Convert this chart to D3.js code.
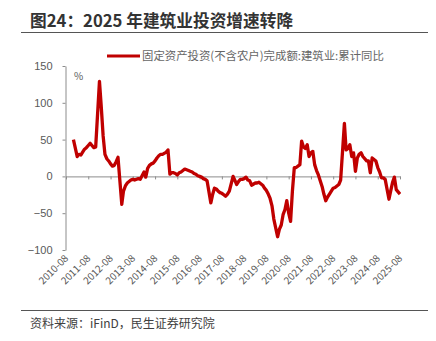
<!DOCTYPE html>
<html><head><meta charset="utf-8">
<script src="https://cdn.jsdelivr.net/npm/d3@7"></script>
<style>
html,body{margin:0;padding:0;background:#fff;}
svg{display:block;font-family:"Noto Sans CJK SC","Noto Sans",sans-serif;}
</style></head>
<body><svg id="c" width="436" height="341"></svg>
<script>
const title = "图24：2025 年建筑业投资增速转降";
const seriesName = "固定资产投资(不含农户)完成额:建筑业:累计同比";
const source = "资料来源：iFinD，民生证券研究院";
const unitLabel = "%";
const yTicks = [-100, -50, 0, 50, 100, 150];
const xTickLabels = ["2010-08","2011-08","2012-08","2013-08","2014-08","2015-08","2016-08","2017-08","2018-08","2019-08","2020-08","2021-08","2022-08","2023-08","2024-08","2025-08"];
const months = [
"2010-12",
"2011-02","2011-03","2011-04","2011-05","2011-06","2011-07","2011-08","2011-09","2011-10","2011-11","2011-12",
"2012-02","2012-03","2012-04","2012-05","2012-06","2012-07","2012-08","2012-09","2012-10","2012-11","2012-12",
"2013-02","2013-03","2013-04","2013-05","2013-06","2013-07","2013-08","2013-09","2013-10","2013-11","2013-12",
"2014-02","2014-03","2014-04","2014-05","2014-06","2014-07","2014-08","2014-09","2014-10","2014-11","2014-12",
"2015-02","2015-03","2015-04","2015-05","2015-06","2015-07","2015-08","2015-09","2015-10","2015-11","2015-12",
"2016-02","2016-03","2016-04","2016-05","2016-06","2016-07","2016-08","2016-09","2016-10","2016-11","2016-12",
"2017-02","2017-03","2017-04","2017-05","2017-06","2017-07","2017-08","2017-09","2017-10","2017-11","2017-12",
"2018-02","2018-03","2018-04","2018-05","2018-06","2018-07","2018-08","2018-09","2018-10","2018-11","2018-12",
"2019-02","2019-03","2019-04","2019-05","2019-06","2019-07","2019-08","2019-09","2019-10","2019-11","2019-12",
"2020-02","2020-03","2020-04","2020-05","2020-06","2020-07","2020-08","2020-09","2020-10","2020-11","2020-12",
"2021-02","2021-03","2021-04","2021-05","2021-06","2021-07","2021-08","2021-09","2021-10","2021-11","2021-12",
"2022-02","2022-03","2022-04","2022-05","2022-06","2022-07","2022-08","2022-09","2022-10","2022-11","2022-12",
"2023-02","2023-03","2023-04","2023-05","2023-06","2023-07","2023-08","2023-09","2023-10","2023-11","2023-12",
"2024-02","2024-03","2024-04","2024-05","2024-06","2024-07","2024-08","2024-09","2024-10","2024-11","2024-12",
"2025-02","2025-03","2025-04","2025-05","2025-06","2025-07","2025-08"
];
const values = [
50,
27,30,29,33,37,39,42,45,42,39,40,
129,95,55,30,24,21,17,14,15,20,26,
-38,-20,-13,-9,-7,-5,-4,-5,-4,-3,-4,
6,-1,11,15,17,18,21,25,28,30,30,
33,36,3,5,5,4,2,5,6,8,10,
8,7,6,4,3,1,0,-1,-3,-4,-6,
-36,-25,-16,-17,-20,-22,-23,-25,-27,-24,-20,
0,-5,-11,-7,-4,-4,-3,-1,-5,-6,-12,
-9,-9,-8,-10,-12,-16,-19,-24,-30,-40,-58,
-82,-72,-66,-52,-45,-33,-50,-61,-20,12,12,
16,48,40,38,43,27,32,34,16,8,2,
-14,-24,-33,-28,-24,-20,-16,-15,-13,-11,-5,
72,36,38,43,27,32,7,25,30,32,27,
21,21,5,25,23,21,12,6,-2,-2,-4,
-31,-20,-8,-1,-18,-21,-24
];

const parse = d3.timeParse("%Y-%m");
const data = months.map((m, i) => ({ d: parse(m), v: values[i] }));
const svg = d3.select("#c");

const red = "#C00000";
const axisGray = "#8c8c8c";
const textGray = "#595959";

// title
svg.append("text").attr("x", 30).attr("y", 27)
  .attr("font-size", 16.7).attr("font-weight", "bold").attr("fill", "#333")
  .text(title);
svg.append("line").attr("x1", 21).attr("x2", 428).attr("y1", 32.5).attr("y2", 32.5)
  .attr("stroke", "#555").attr("stroke-width", 1.2);

// scales
const x = d3.scaleTime().domain([parse(xTickLabels[0]), parse(xTickLabels[xTickLabels.length - 1])]).range([66, 400]);
const y = d3.scaleLinear().domain([-100, 150]).range([250, 66]);

// legend
svg.append("line").attr("x1", 107).attr("x2", 140).attr("y1", 56).attr("y2", 56)
  .attr("stroke", red).attr("stroke-width", 3);
svg.append("text").attr("x", 142).attr("y", 60)
  .attr("font-size", 11.4).attr("fill", "#666").text(seriesName);

// y axis
const yAxis = svg.append("g").attr("transform", "translate(65.5,0)")
  .call(d3.axisLeft(y).tickValues(yTicks).tickSize(3).tickSizeOuter(0).tickPadding(10));
yAxis.selectAll("path,line").attr("stroke", axisGray);
yAxis.selectAll("text").attr("font-size", 11).attr("fill", textGray).attr("font-family", "inherit");

svg.append("text").attr("x", 74).attr("y", 80).attr("font-size", 10).attr("fill", textGray).text(unitLabel);

// x axis at zero
const tickDates = xTickLabels.map(parse);
const xAxis = svg.append("g").attr("transform", `translate(0,${y(0)})`)
  .call(d3.axisBottom(x).tickValues(tickDates).tickSize(3).tickSizeOuter(0).tickFormat(""));
xAxis.selectAll("path,line").attr("stroke", axisGray);

// x labels at bottom
svg.append("g").selectAll("text").data(tickDates).join("text")
  .attr("transform", d => `translate(${x(d) + 3},${259}) rotate(-45)`)
  .attr("text-anchor", "end")
  .attr("font-size", 10).attr("fill", textGray)
  .text(d3.timeFormat("%Y-%m"));

// line
svg.append("path").datum(data)
  .attr("fill", "none").attr("stroke", red).attr("stroke-width", 3.3)
  .attr("stroke-linejoin", "round")
  .attr("d", d3.line().x(d => x(d.d)).y(d => y(d.v)));

// footer
svg.append("line").attr("x1", 21).attr("x2", 428).attr("y1", 310.5).attr("y2", 310.5)
  .attr("stroke", "#555").attr("stroke-width", 1.2);
svg.append("text").attr("x", 30).attr("y", 328)
  .attr("font-size", 12).attr("fill", "#404040").text(source);
</script></body></html>
